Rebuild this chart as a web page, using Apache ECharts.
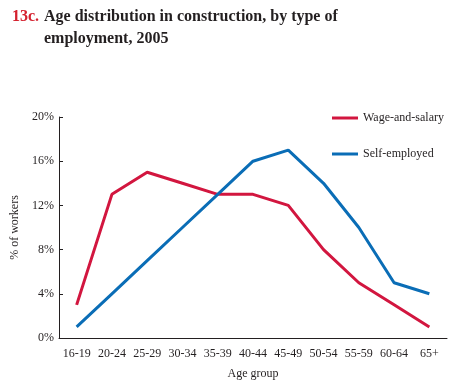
<!DOCTYPE html>
<html>
<head>
<meta charset="utf-8">
<script src="https://cdn.jsdelivr.net/npm/echarts@6/dist/echarts.min.js"></script>
<style>
  html, body { margin: 0; padding: 0; background: #fff; }
  #chart { width: 452px; height: 385px; }
</style>
</head>
<body>
<div id="chart"></div>
<script>
var ageGroups = ['16-19', '20-24', '25-29', '30-34', '35-39', '40-44', '45-49', '50-54', '55-59', '60-64', '65+'];
var wageAndSalary = [3, 13, 15, 14, 13, 13, 12, 8, 5, 3, 1];
var selfEmployed = [1, 4, 7, 10, 13, 16, 17, 14, 10, 5, 4];

var chart = echarts.init(document.getElementById('chart'));
var serif = '"Liberation Serif", "DejaVu Serif", serif';

var option = {
    animation: false,
    title: [ {
        text: '13c.',
        left: 12,
        top: 6,
        padding: 0,
        textStyle: { fontFamily: serif, fontSize: 16, fontWeight: 'bold', color: '#d4202e', lineHeight: 22 }
    }, {
        text: 'Age distribution in construction, by type of\nemployment, 2005',
        left: 44,
        top: 6,
        padding: 0,
        textStyle: { fontFamily: serif, fontSize: 16, fontWeight: 'bold', color: '#231f20', lineHeight: 22 }
    } ],
    legend: {
        orient: 'vertical',
        left: 327,
        top: 107,
        itemGap: 24,
        itemWidth: 26,
        itemHeight: 3,
        icon: 'rect',
        textStyle: { fontFamily: serif, fontSize: 12, color: '#231f20' },
        data: ['Wage-and-salary', 'Self-employed']
    },
    grid: { left: 59, right: 5, top: 117, bottom: 44 },
    xAxis: {
        type: 'category',
        data: ageGroups,
        name: 'Age group',
        nameLocation: 'middle',
        nameGap: 30,
        nameTextStyle: { fontFamily: serif, fontSize: 12, color: '#231f20' },
        axisLine: { lineStyle: { color: '#231f20', width: 1 } },
        axisTick: { inside: true, length: 4, lineStyle: { color: '#231f20' } },
        axisLabel: { fontFamily: serif, fontSize: 12, color: '#231f20', margin: 10, interval: 0 }
    },
    yAxis: {
        type: 'value',
        min: 0,
        max: 20,
        interval: 4,
        name: '% of workers',
        nameLocation: 'middle',
        nameGap: 31,
        nameTextStyle: { fontFamily: serif, fontSize: 12, color: '#231f20' },
        axisLine: { show: true, lineStyle: { color: '#231f20', width: 1 } },
        axisTick: { show: true, inside: true, length: 4, lineStyle: { color: '#231f20' } },
        splitLine: { show: false },
        axisLabel: { fontFamily: serif, fontSize: 12, color: '#231f20', margin: 5, formatter: '{value}%' }
    },
    series: [ {
        name: 'Wage-and-salary',
        type: 'line',
        data: wageAndSalary,
        showSymbol: false,
        color: '#d2163f',
        lineStyle: { width: 3, color: '#d2163f' }
    }, {
        name: 'Self-employed',
        type: 'line',
        data: selfEmployed,
        showSymbol: false,
        color: '#0a6db6',
        lineStyle: { width: 3, color: '#0a6db6' }
    } ]
};

chart.setOption(option);

window.onresize = chart.resize;
</script>
</body>
</html>
